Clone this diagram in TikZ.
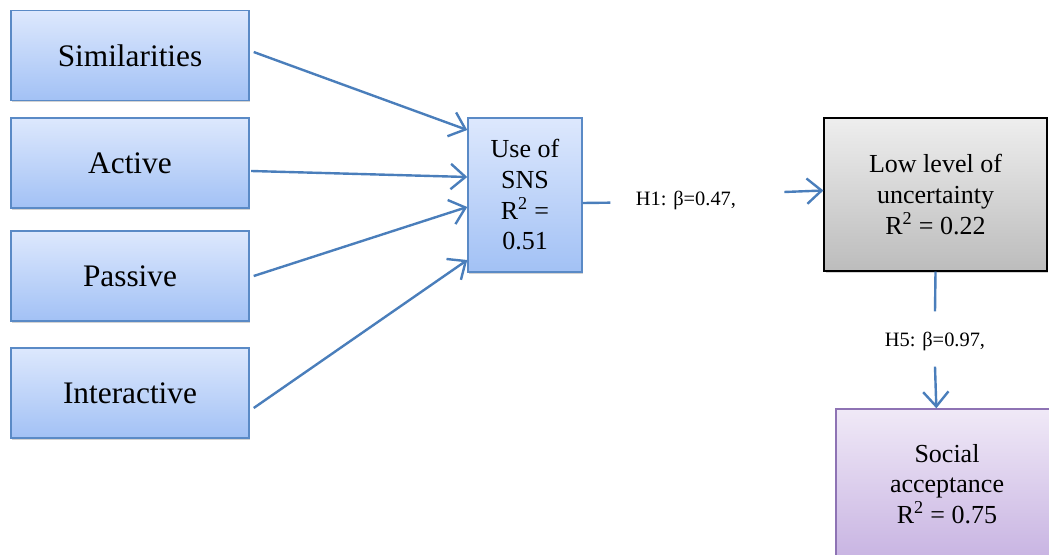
\documentclass[tikz,border=0pt]{standalone}
\usepackage{fontspec}
\setmainfont{Liberation Serif}
\usepackage{tikz}
\usetikzlibrary{arrows.meta,shadows}
\definecolor{boxline}{HTML}{5A8AC6}
\definecolor{arrowblue}{HTML}{4A7EBB}
\definecolor{bluetop}{HTML}{DDE8FD}
\definecolor{bluebot}{HTML}{A2C1F5}
\definecolor{graytop}{HTML}{EEEEEE}
\definecolor{graybot}{HTML}{BCBCBC}
\definecolor{purptop}{HTML}{F0E9F7}
\definecolor{purpbot}{HTML}{C8B4E2}
\definecolor{purpline}{HTML}{8E73B4}

\begin{document}
\begin{tikzpicture}[x=0.75pt,y=-0.75pt,
                shade box/.style={rectangle,inner sep=0pt,align=center,
                    drop shadow={opacity=0.35,shadow xshift=1pt,shadow yshift=-1.5pt}},
                factor/.style={shade box,draw=boxline,line width=1.1pt,top color=bluetop,bottom color=bluebot,
                    minimum width=178.5pt,minimum height=67.5pt,font=\fontsize{23.5}{28}\selectfont},
                sns/.style={shade box,draw=boxline,line width=1.1pt,top color=bluetop,bottom color=bluebot,
                    minimum width=85.5pt,minimum height=115.5pt,font=\fontsize{19.5}{23}\selectfont},
                outcome/.style={shade box,draw=black,line width=1.1pt,top color=graytop,bottom color=graybot,
                    minimum width=167pt,minimum height=114.75pt,font=\fontsize{19.5}{23.2}\selectfont},
                accept/.style={shade box,draw=purpline,line width=1.1pt,top color=purptop,bottom color=purpbot,
                    minimum width=166.5pt,minimum height=112.5pt,font=\fontsize{19.5}{23}\selectfont},
                coef/.style={inner sep=0pt,font=\fontsize{15.3}{18}\selectfont},
                conn/.style={draw=arrowblue,line width=1.8pt},
                arr/.style={conn,-{Straight Barb[length=11pt,width=19pt,line width=1.8pt]}}]
                \useasboundingbox (0,0) rectangle (1049,555);
                \clip (0,0) rectangle (1049,555);
                \node[factor] (sim) at (130,55.5) {Similarities};
                \node[factor] (act) at (130,163) {Active};
                \node[factor] (pas) at (130,276) {Passive};
                \node[factor] (inter) at (130,393) {Interactive};
                \node[sns] (use) at (525,195) {Use of\\SNS\\R\textsuperscript{2} =\\0.51};
                \node[outcome] (low) at (935.5,194.5) {Low level of\\uncertainty\\R\textsuperscript{2} = 0.22};
                \node[accept] (soc) at (947,484) {Social\\acceptance\\R\textsuperscript{2} = 0.75};
                \node[coef] (h1) at (686,200) {H1: β=0.47,};
                \node[coef] (h5) at (935,341) {H5: β=0.97,};
                \draw[arr] ([xshift=3pt,yshift=2.6pt]sim.east) -- ([yshift=48.75pt]use.west);
                \draw[arr] ([xshift=1pt,yshift=-6pt]act.east) -- ([yshift=13.5pt]use.west);
                \draw[arr] ([xshift=3pt]pas.east) -- ([yshift=-9pt]use.west);
                \draw[arr] ([xshift=3pt,yshift=-11.25pt]inter.east) -- ([yshift=-48.75pt]use.west);
                \draw[conn] ([yshift=-6pt]use.east) -- ([xshift=-19pt,yshift=-2pt]h1.west);
                \draw[arr] ([xshift=36pt,yshift=6pt]h1.east) -- ([yshift=3pt]low.west);
                \draw[conn] (low.south) -- ([yshift=15pt]h5.north);
                \draw[arr] ([yshift=-12pt]h5.south) -- ([xshift=-8pt]soc.north);
            \end{tikzpicture}
\end{document}
